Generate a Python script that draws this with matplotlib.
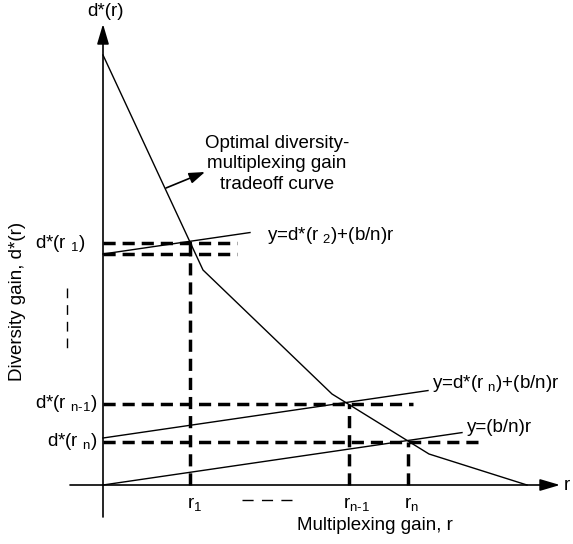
import numpy as np
import matplotlib
matplotlib.use("Agg")
import matplotlib.pyplot as plt

plt.rcParams['font.family'] = ['Liberation Sans', 'DejaVu Sans']
plt.rcParams['mathtext.fontset'] = 'custom'
plt.rcParams['mathtext.rm'] = 'Liberation Sans'
plt.rcParams['mathtext.it'] = 'Liberation Sans'
plt.rcParams['mathtext.default'] = 'regular'

# schematic values, origin where the axes cross
curve_r = [0, 100, 229, 326, 424]
curve_d = [430, 215, 91, 31, 0]

r1, r_n1, r_n = 87, 246, 305
d_r1, d_r2, d_rn1, d_rn = 242, 231, 81, 43

b_over_n = 0.146
tan_icpt = [d_r2, 47, 0]
tan_end = [147, 325, 359]

hlevels = [d_r1, d_r2, d_rn1, d_rn]
hends = [134, 134, 310, 375]
vlines_r = [r1, r_n1, r_n]
vlines_top = [d_r1, d_rn1, d_rn]

FS = 13.5
N1 = r'n\text{-}1'

fig = plt.figure(figsize=(5.73, 5.44), dpi=100)
ax = fig.add_axes([0, 0, 1, 1])
ax.set_xlim(-103, 470)
ax.set_ylim(-59, 485)
ax.axis('off')

# axes with arrows
ax_arrow = dict(arrowstyle='-|>,head_length=1.22,head_width=0.36', lw=1.2,
                color='k', shrinkA=0, shrinkB=0, mutation_scale=10)
ax.annotate('', xy=(0, 461), xytext=(0, -32), arrowprops=ax_arrow)
ax.annotate('', xy=(457, 0), xytext=(-33, 0), arrowprops=ax_arrow)

# tradeoff curve
ax.plot(curve_r, curve_d, color='k', lw=1.0)

# tangent lines
for c, e in zip(tan_icpt, tan_end):
    rr = np.array([0, e])
    ax.plot(rr, c + b_over_n * rr, color='k', lw=1.0)

# dashed guides
dash = (0, (3.5, 2))
for lvl, e in zip(hlevels, hends):
    ax.plot([0, e], [lvl, lvl], color='k', lw=2.5, ls=dash)
for r, top in zip(vlines_r, vlines_top):
    ax.plot([r, r], [0, top], color='k', lw=2.5, ls=dash)

# ellipsis dashes
ax.plot([139, 190], [-15, -15], color='k', lw=1.0, ls=(0, (8, 6)))
ax.plot([-36, -36], [197, 133], color='k', lw=1.0, ls=(0, (7, 5)))

# annotation
ax.annotate('', xy=(102, 313), xytext=(63, 297),
            arrowprops=dict(arrowstyle='-|>,head_length=0.95,head_width=0.33',
                            lw=1.2, color='k', shrinkA=0, shrinkB=0,
                            mutation_scale=10))
ax.text(174, 321, 'Optimal diversity-\nmultiplexing gain\ntradeoff curve',
        ha='center', va='center', fontsize=FS, linespacing=1.3)

# labels
ax.text(2, 473, 'd*(r)', ha='center', va='center', fontsize=FS)
ax.text(-85, 184, 'Diversity gain, d*(r)', ha='center', va='center',
        rotation=90, fontsize=FS)
ax.text(272, -40, 'Multiplexing gain, r', ha='center', va='center', fontsize=FS)
ax.text(461, 0, 'r', ha='left', va='center', fontsize=FS)

ax.text(-17, d_r1, 'd*(r $_{1}$)', ha='right', va='center', fontsize=FS)
ax.text(-6, d_rn1, 'd*(r $_{%s}$)' % N1, ha='right', va='center', fontsize=FS)
ax.text(-5, d_rn, 'd*(r $_{n}$)', ha='right', va='center', fontsize=FS)

ax.text(84, -19, 'r$_{1}$', ha='left', va='center', fontsize=FS)
ax.text(240, -19, 'r$_{%s}$' % N1, ha='left', va='center', fontsize=FS)
ax.text(301, -19, 'r$_{n}$', ha='left', va='center', fontsize=FS)

ax.text(164, 250, 'y=d*(r $_{2}$)+(b/n)r', ha='left', va='center', fontsize=FS)
ax.text(329, 101, 'y=d*(r $_{n}$)+(b/n)r', ha='left', va='center', fontsize=FS)
ax.text(364, 58, 'y=(b/n)r', ha='left', va='center', fontsize=FS)

fig.savefig('out.png', dpi=100)
